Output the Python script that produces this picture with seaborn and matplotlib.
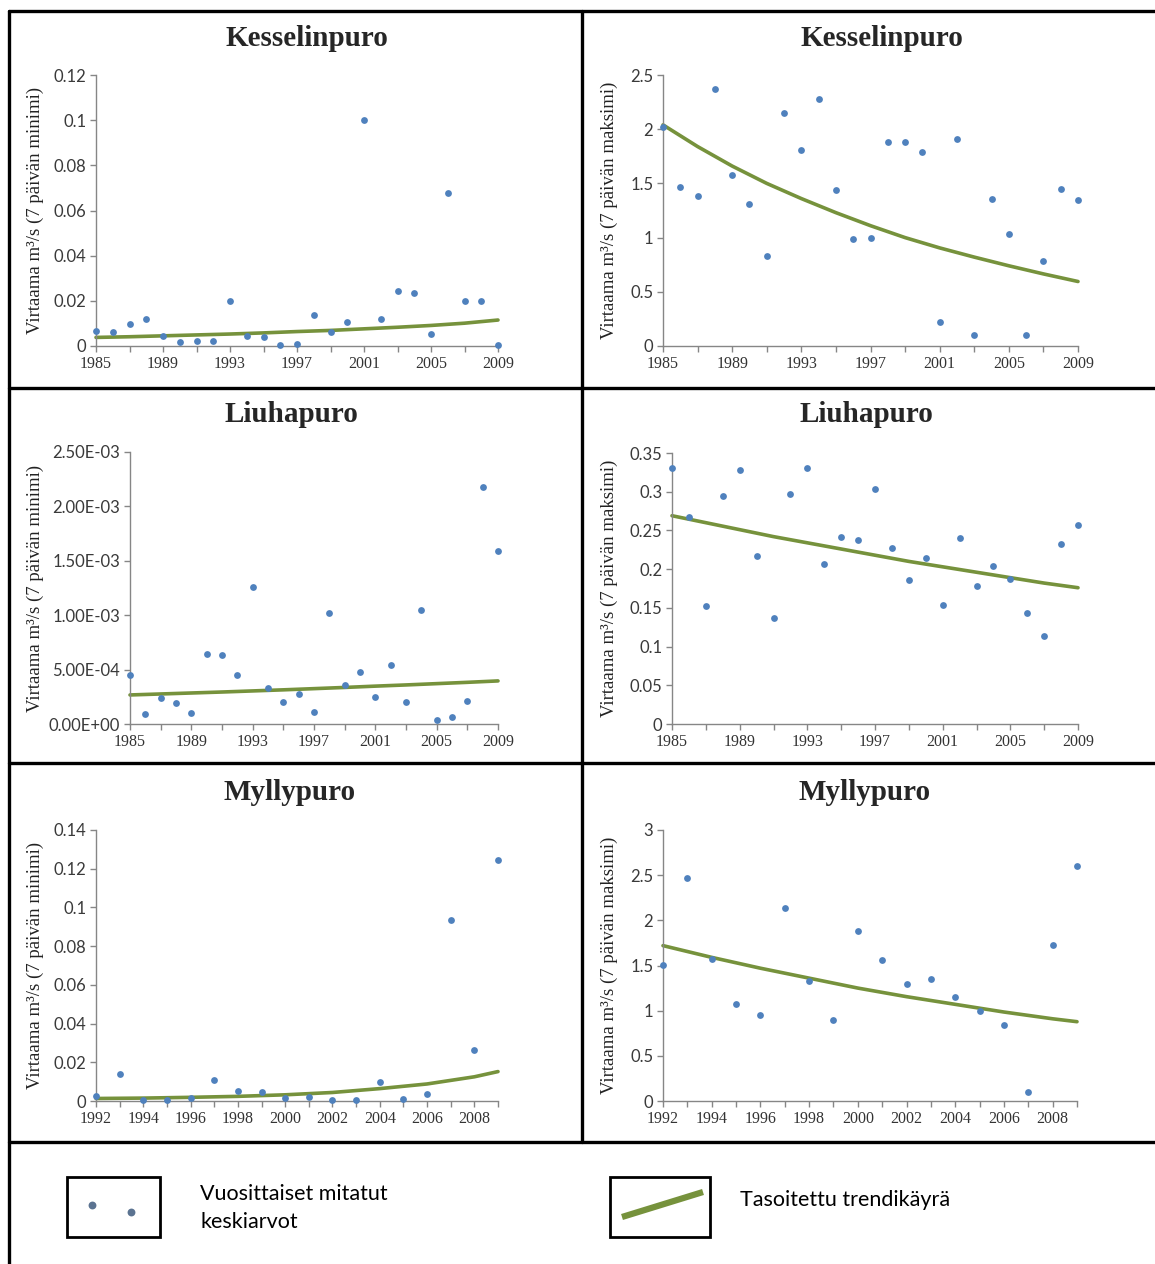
import numpy as np
import pandas as pd
import matplotlib
matplotlib.use("Agg")
import matplotlib.pyplot as plt
from matplotlib.ticker import MultipleLocator, FixedLocator, FuncFormatter
from matplotlib.lines import Line2D
from matplotlib.patches import Rectangle
import seaborn as sns

years_a = list(range(1985, 2010))
years_b = list(range(1992, 2010))

kessel_min = [0.0065, 0.006, 0.0096, 0.0118, 0.0043, 0.0016, 0.002, 0.002, 0.0198, 0.0043,
              0.0038, 0.0003, 0.0007, 0.0136, 0.006, 0.0105, 0.1, 0.0118, 0.0242, 0.0233,
              0.0052, 0.0679, 0.0198, 0.0198, 0.0003]
kessel_max = [2.02, 1.47, 1.38, 2.37, 1.58, 1.31, 0.83, 2.15, 1.81, 2.28,
              1.44, 0.99, 1.0, 1.88, 1.885, 1.79, 0.22, 1.91, 0.1, 1.36,
              1.03, 0.1, 0.78, 1.45, 1.35]
liuha_min = [4.51e-4, 0.92e-4, 2.39e-4, 1.96e-4, 1.01e-4, 6.44e-4, 6.35e-4, 4.51e-4, 12.61e-4, 3.31e-4,
             2.02e-4, 2.79e-4, 1.10e-4, 10.21e-4, 3.59e-4, 4.79e-4, 2.48e-4, 5.43e-4, 2.02e-4, 10.49e-4,
             0.40e-4, 0.67e-4, 2.12e-4, 21.78e-4, 15.89e-4]
liuha_max = [0.331, 0.267, 0.152, 0.295, 0.328, 0.217, 0.137, 0.297, 0.330, 0.206,
             0.242, 0.238, 0.303, 0.227, 0.186, 0.214, 0.154, 0.240, 0.178, 0.204,
             0.187, 0.143, 0.114, 0.232, 0.257]
mylly_min = [0.0024, 0.0139, 0.0005, 0.0005, 0.0014, 0.0107, 0.005, 0.0045, 0.0014,
             0.0019, 0.0003, 0.0003, 0.0096, 0.0012, 0.0036, 0.0937, 0.0262, 0.1245]
mylly_max = [1.51, 2.47, 1.57, 1.07, 0.95, 2.14, 1.33, 0.90, 1.88,
             1.56, 1.30, 1.35, 1.15, 1.00, 0.84, 0.10, 1.73, 2.60]

# smoothed trend curves, read at a few years
trend_years_a = [1985, 1987, 1989, 1991, 1993, 1995, 1997, 1999, 2001, 2003, 2005, 2007, 2009]
trend_years_b = [1992, 1994, 1996, 1998, 2000, 2002, 2004, 2006, 2008, 2009]
kessel_min_trend = [0.0038, 0.0041, 0.0045, 0.0049, 0.0053, 0.0058, 0.0064,
                    0.0069, 0.0076, 0.0083, 0.0091, 0.0101, 0.0115]
kessel_max_trend = [2.04, 1.84, 1.66, 1.50, 1.36, 1.23, 1.11,
                    1.00, 0.905, 0.82, 0.74, 0.665, 0.595]
liuha_min_trend = [2.67e-4, 2.76e-4, 2.85e-4, 2.94e-4, 3.04e-4, 3.14e-4, 3.25e-4,
                   3.36e-4, 3.48e-4, 3.59e-4, 3.71e-4, 3.83e-4, 3.96e-4]
liuha_max_trend = [0.269, 0.260, 0.251, 0.242, 0.234, 0.226, 0.218,
                   0.210, 0.203, 0.196, 0.189, 0.182, 0.176]
mylly_min_trend = [0.0013, 0.0015, 0.0019, 0.0024, 0.0032, 0.0044, 0.0064, 0.0088, 0.0125, 0.0152]
mylly_max_trend = [1.72, 1.59, 1.47, 1.36, 1.25, 1.155, 1.07, 0.985, 0.91, 0.878]

# x tick positions (labelled / unlabelled)
xticks_a = [1985, 1989, 1993, 1997, 2001, 2005, 2009]
xminor_a = [1987, 1991, 1995, 1999, 2003, 2007]
xticks_b = [1992, 1994, 1996, 1998, 2000, 2002, 2004, 2006, 2008]
xminor_b = [1993, 1995, 1997, 1999, 2001, 2003, 2005, 2007, 2009]

titles = ["Kesselinpuro", "Kesselinpuro", "Liuhapuro", "Liuhapuro", "Myllypuro", "Myllypuro"]
ylabel_min = "Virtaama m³/s (7 päivän minimi)"
ylabel_max = "Virtaama m³/s (7 päivän maksimi)"
legend_points = "Vuosittaiset mitatut\nkeskiarvot"
legend_line = "Tasoitettu trendikäyrä"

sns.set_style("white")
plt.rcParams["font.family"] = ["Lato", "DejaVu Sans"]

W, H = 1155, 1264
fig = plt.figure(figsize=(W / 100, H / 100), dpi=100)

DOT = "#4F81BD"
TREND = "#76923C"
SPINE = "#868686"


def fx(x):
    return x / W


def fy(y):
    return 1 - y / H


def add_panel(box, years, values, t_years, t_values, title, title_x, title_y,
              ylabel, label_x, ymax, ystep, fmt, major_x, minor_x):
    left, right, top, bottom = box
    ax = fig.add_axes([fx(left), fy(bottom), (right - left) / W, (bottom - top) / H])
    df = pd.DataFrame({"year": years, "value": values})
    tr = pd.DataFrame({"year": t_years, "value": t_values})
    sns.lineplot(data=tr, x="year", y="value", ax=ax, color=TREND, linewidth=2.6,
                 clip_on=False, zorder=2)
    sns.scatterplot(data=df, x="year", y="value", ax=ax, color=DOT, s=24,
                    linewidth=0, clip_on=False, zorder=3)
    ax.set_xlim(years[0], years[-1])
    ax.set_ylim(0, ymax)
    ax.yaxis.set_major_locator(MultipleLocator(ystep))
    ax.yaxis.set_major_formatter(FuncFormatter(fmt))
    ax.xaxis.set_major_locator(FixedLocator(major_x))
    ax.xaxis.set_minor_locator(FixedLocator(minor_x))
    ax.xaxis.set_major_formatter(FuncFormatter(lambda v, p: f"{int(round(v))}"))
    ax.set_xlabel("")
    ax.set_ylabel("")
    for s in ["top", "right"]:
        ax.spines[s].set_visible(False)
    for s in ["left", "bottom"]:
        ax.spines[s].set_color(SPINE)
        ax.spines[s].set_linewidth(1.0)
    ax.tick_params(axis="y", which="major", direction="out", length=4, width=1,
                   color=SPINE, labelsize=12, labelcolor="#3a3a3a", pad=3, left=True)
    ax.tick_params(axis="x", which="both", direction="out", length=4, width=1,
                   color=SPINE, bottom=True)
    ax.tick_params(axis="x", which="major", labelsize=11.5, labelcolor="#333333", pad=3)
    for lab in ax.get_xticklabels():
        lab.set_fontfamily("Liberation Serif")
    fig.text(fx(title_x), fy(title_y), title, ha="center", va="center",
             fontsize=21, fontweight="bold", family="Liberation Serif")
    fig.text(fx(label_x), fy((top + bottom) / 2), ylabel, rotation=90, ha="center",
             va="center", fontsize=13.5, family="Liberation Serif", color="#222222")
    return ax


fmt_g = lambda v, p: f"{v:g}" if abs(v) > 1e-12 else "0"
fmt_e = lambda v, p: f"{v:.2E}"

add_panel((96, 498, 75, 346), years_a, kessel_min, trend_years_a, kessel_min_trend,
          titles[0], 307, 38, ylabel_min, 35, 0.12, 0.02, fmt_g, xticks_a, xminor_a)
add_panel((663, 1078, 75, 346), years_a, kessel_max, trend_years_a, kessel_max_trend,
          titles[1], 882, 38, ylabel_max, 609, 2.5, 0.5, fmt_g, xticks_a, xminor_a)
add_panel((130, 498, 452, 724), years_a, liuha_min, trend_years_a, liuha_min_trend,
          titles[2], 291, 414, ylabel_min, 35, 2.5e-3, 5e-4, fmt_e, xticks_a, xminor_a)
add_panel((672, 1078, 453, 724), years_a, liuha_max, trend_years_a, liuha_max_trend,
          titles[3], 866, 414, ylabel_max, 609, 0.35, 0.05, fmt_g, xticks_a, xminor_a)
add_panel((96, 498, 830, 1101), years_b, mylly_min, trend_years_b, mylly_min_trend,
          titles[4], 290, 792, ylabel_min, 35, 0.14, 0.02, fmt_g, xticks_b, xminor_b)
add_panel((663, 1077, 830, 1101), years_b, mylly_max, trend_years_b, mylly_max_trend,
          titles[5], 865, 792, ylabel_max, 609, 3.0, 0.5, fmt_g, xticks_b, xminor_b)

# frame lines (table borders)
frame_lw = 2.4
for (x0, y0, x1, y1) in [(9, 11, W, 11), (9, 11, 9, H), (582, 11, 582, 1142),
                         (9, 388, W, 388), (9, 763, W, 763), (9, 1142, W, 1142)]:
    fig.add_artist(Line2D([fx(x0), fx(x1)], [fy(y0), fy(y1)], color="black",
                          linewidth=frame_lw, transform=fig.transFigure))

# legend area drawn in pixel space
lg = fig.add_axes([0, 0, 1, (H - 1143) / H])
lg.set_xlim(0, W)
lg.set_ylim(H, 1143)
lg.axis("off")
lg.add_patch(Rectangle((67, 1177), 93, 60, fill=False, edgecolor="black", linewidth=2))
lg.add_patch(Rectangle((610, 1177), 100, 60, fill=False, edgecolor="black", linewidth=2))
lg.scatter([92, 131], [1205, 1212], s=32, color="#5B7391", linewidths=0)
lg.plot([622, 703], [1217, 1192], color=TREND, linewidth=4.5, solid_capstyle="butt")
lg.text(200, 1208, legend_points, ha="left", va="center", fontsize=15.5,
        linespacing=1.5, color="black")
lg.text(740, 1200, legend_line, ha="left", va="center", fontsize=15.5, color="black")

fig.savefig("out.png", dpi=100, facecolor="white")
